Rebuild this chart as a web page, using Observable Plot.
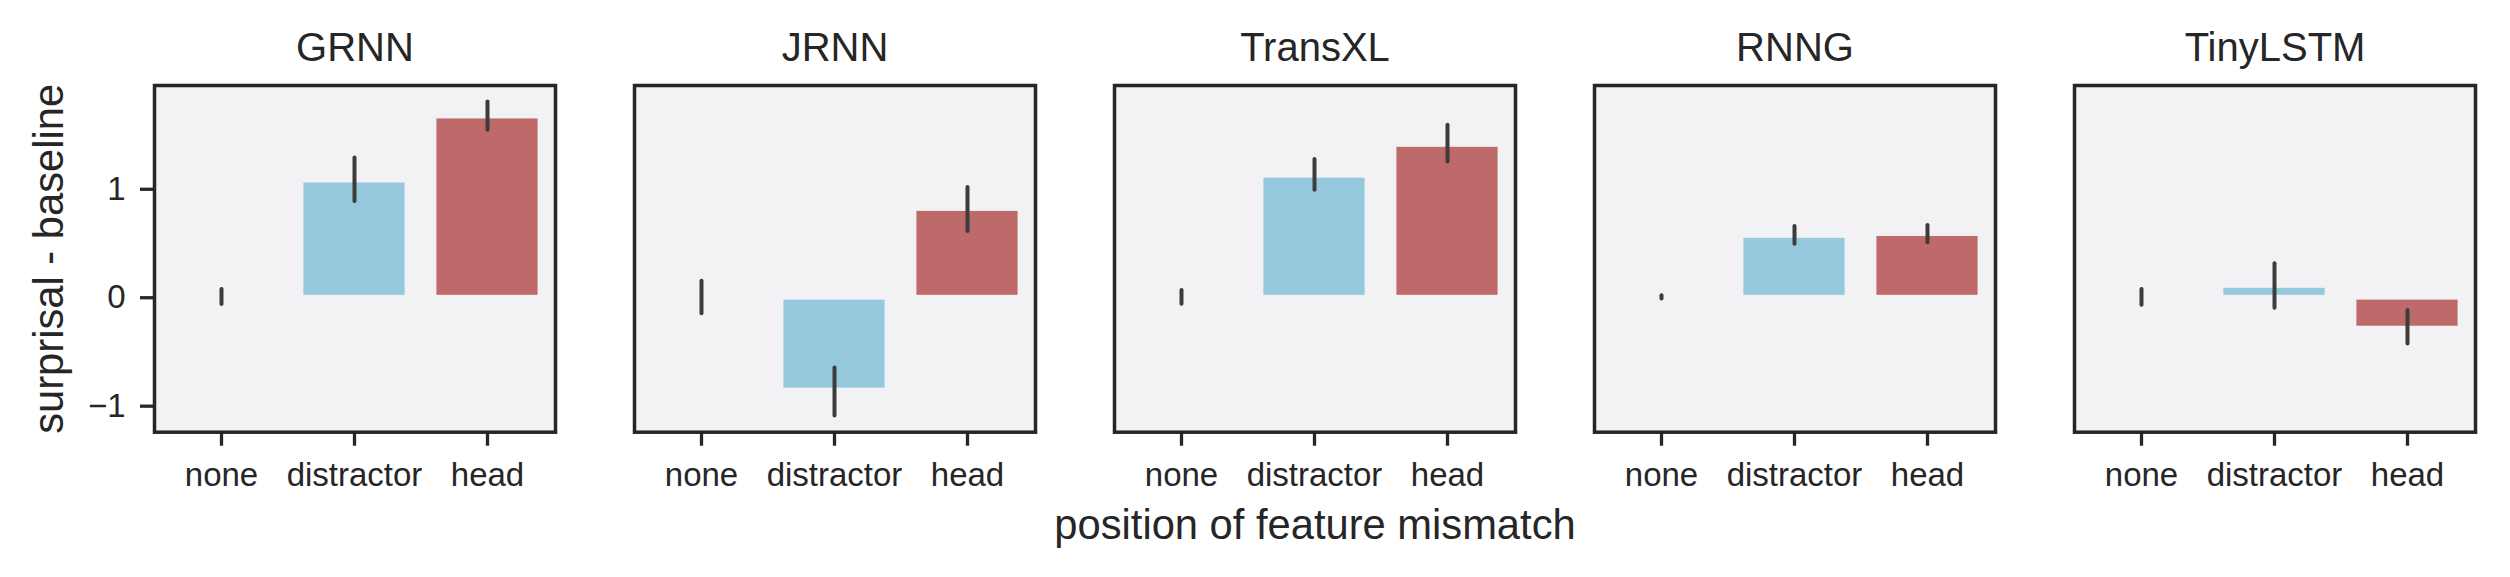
<!DOCTYPE html>
<html>
<head>
<meta charset="utf-8">
<script src="https://cdn.jsdelivr.net/npm/d3@7"></script>
<script src="https://cdn.jsdelivr.net/npm/@observablehq/plot@0.6"></script>
<style>
  html, body { margin: 0; padding: 0; background: #ffffff; }
  #chart svg { display: block; }
</style>
</head>
<body>
<div id="chart"></div>
<script>
// ---- data ----
const models = ["GRNN", "JRNN", "TransXL", "RNNG", "TinyLSTM"];
const conditions = ["none", "distractor", "head"];

// mean surprisal - baseline, one value per model (same order as `models`)
const meanNone       = [0.00, 0.00, 0.00, 0.00, 0.00];
const meanDistractor = [1.08, -0.856, 1.124, 0.570, 0.109];
const meanHead       = [1.671, 0.818, 1.409, 0.587, -0.285];

// confidence interval bounds
const loNone       = [-0.062, -0.147, -0.059, -0.012, -0.069];
const hiNone       = [0.076, 0.151, 0.066, 0.018, 0.076];
const loDistractor = [0.888, -1.091, 0.990, 0.494, -0.096];
const hiDistractor = [1.288, -0.647, 1.275, 0.657, 0.314];
const loHead       = [1.544, 0.610, 1.252, 0.508, -0.426];
const hiHead       = [1.804, 1.017, 1.590, 0.667, -0.117];

const yTicks = [-1, 0, 1];
const yTitle = "surprisal - baseline";
const xTitle = "position of feature mismatch";

const barColors = ["#888888", "#95c8dd", "#bf6a6a"];

// ---- build table ----
const series = {
  none:       {mean: meanNone, lo: loNone, hi: hiNone},
  distractor: {mean: meanDistractor, lo: loDistractor, hi: hiDistractor},
  head:       {mean: meanHead, lo: loHead, hi: hiHead}
};
const rows = models.flatMap((m, i) => conditions.map(c => ({
  model: m, cond: c,
  mean: series[c].mean[i], lo: series[c].lo[i], hi: series[c].hi[i]
})));

const ink = "#262626";
const font = "'Liberation Sans', Arial, Helvetica, sans-serif";
const fmt = d => d < 0 ? "\u2212" + Math.abs(d) : String(d);

const chart = Plot.plot({
  width: 2510,
  height: 577,
  marginTop: 85,
  marginBottom: 145.3,
  marginLeft: 152,
  marginRight: 32,
  style: {fontFamily: font, background: "#ffffff", color: ink},
  fx: {domain: models, paddingInner: 0.1642, paddingOuter: 0, axis: null, label: null},
  x: {domain: conditions, paddingInner: 0.2, paddingOuter: 0.1, label: null},
  y: {domain: [-1.24, 1.957], label: null},
  color: {domain: conditions, range: barColors},
  marks: [
    Plot.frame({fill: "#f2f2f5"}),
    Plot.barY(rows.filter(d => d.cond !== "none"), {
      fx: "model", x: "cond", y: "mean", fill: "cond", inset: 2.4
    }),
    Plot.ruleX(rows, {
      fx: "model", x: "cond", y1: "lo", y2: "hi",
      stroke: "#3c3c3c", strokeWidth: 4, strokeLinecap: "round"
    }),
    Plot.frame({stroke: ink, strokeWidth: 3.5}),
    Plot.axisY({
      ticks: yTicks, tickFormat: fmt, tickSize: 14, tickPadding: 15,
      fontSize: 33, strokeWidth: 3.3, color: ink, label: null
    }),
    Plot.axisX({
      tickSize: 14, tickPadding: 16, fontSize: 33, strokeWidth: 3.3,
      color: ink, label: null
    }),
    Plot.text(models, {
      fx: d => d, text: d => d, frameAnchor: "top", lineAnchor: "bottom",
      dy: -25, fontSize: 40, fill: ink
    }),
    Plot.text([xTitle], {
      fx: ["TransXL"], text: d => d, frameAnchor: "bottom", lineAnchor: "bottom",
      textAnchor: "middle", dy: 106.6, fontSize: 41.7, fill: ink
    }),
    Plot.text([yTitle], {
      fx: ["GRNN"], text: d => d, frameAnchor: "left", rotate: -90,
      textAnchor: "middle", lineAnchor: "middle", dx: -105.3, fontSize: 41.7, fill: ink
    })
  ]
});

document.getElementById("chart").appendChild(chart);
</script>
</body>
</html>
